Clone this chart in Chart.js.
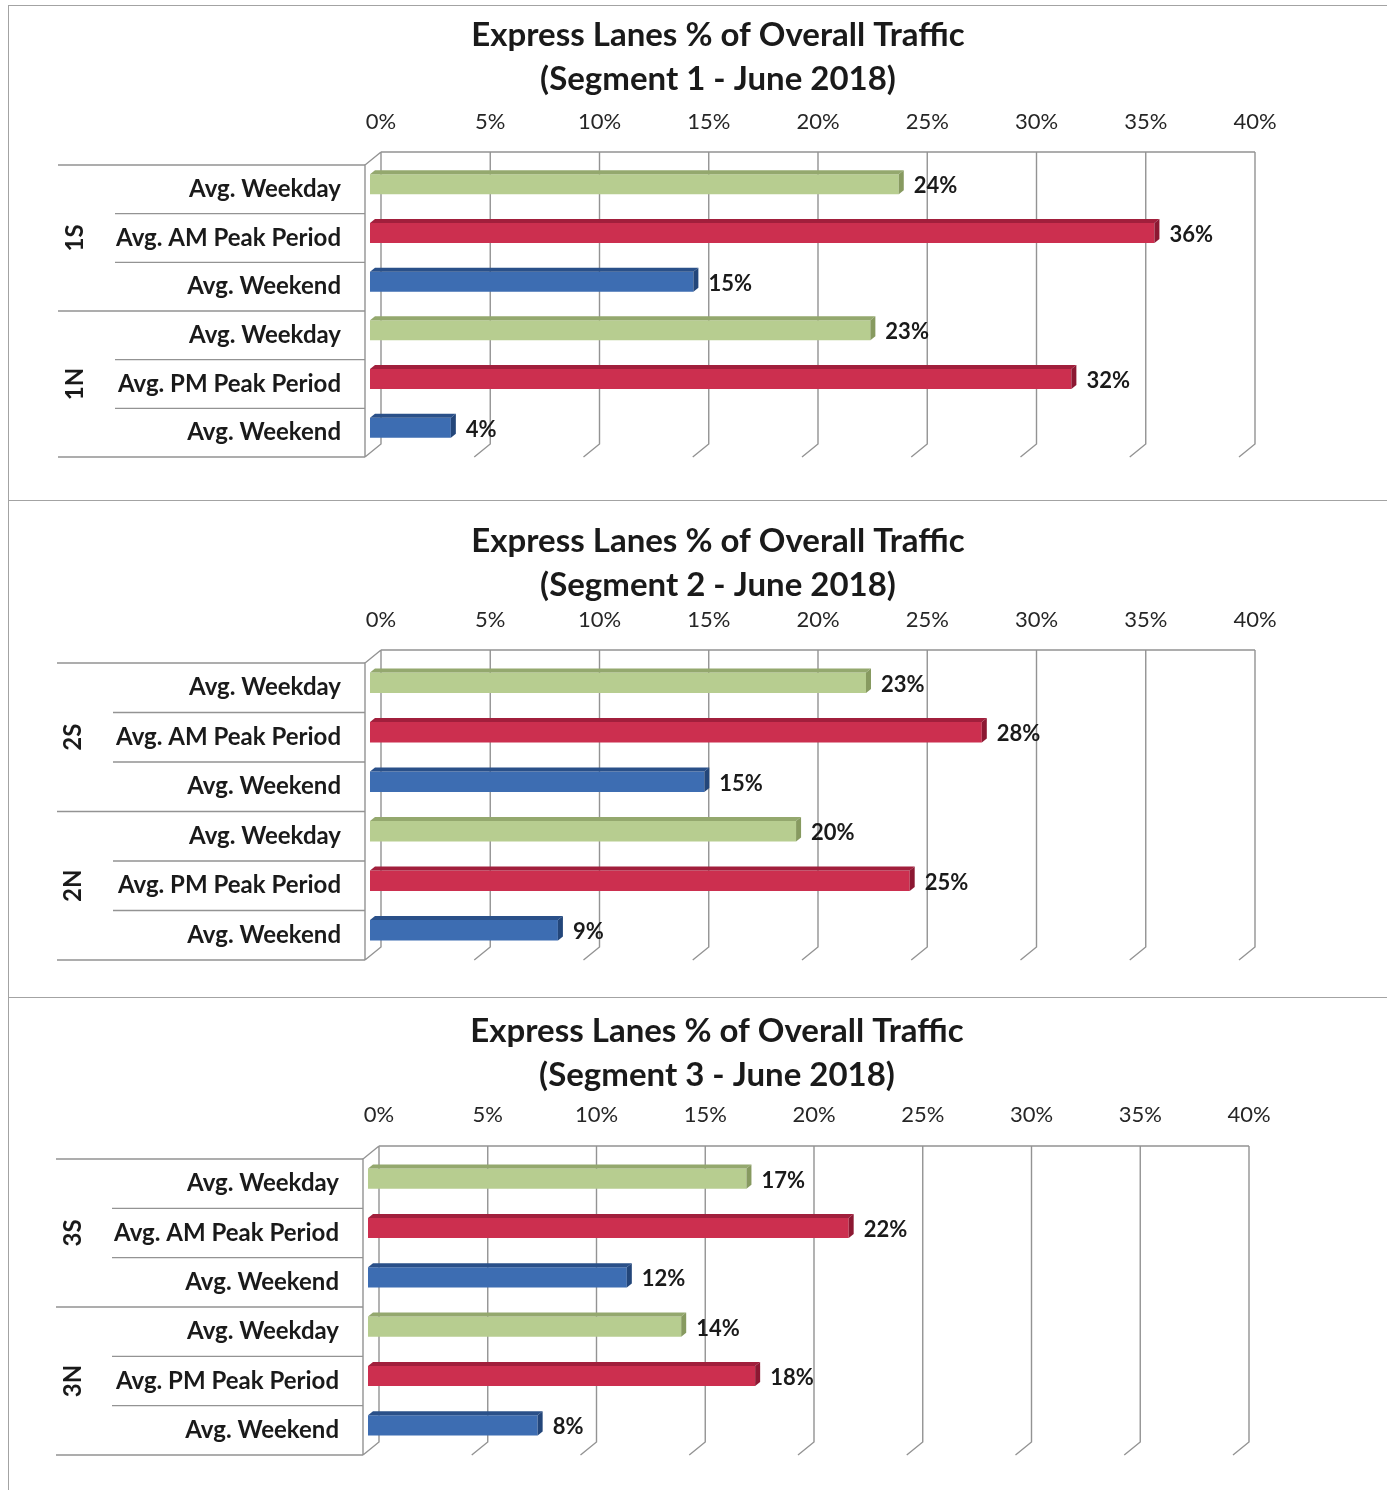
<!DOCTYPE html>
<html>
<head>
<meta charset="utf-8">
<title>Express Lanes % of Overall Traffic</title>
<script src="https://cdn.jsdelivr.net/npm/chart.js@4.4.1/dist/chart.umd.min.js"></script>
<style>
  html, body { margin: 0; padding: 0; background: #fff; }
  body { width: 1387px; height: 1490px; position: relative; overflow: hidden; }
  .box { position: absolute; left: 8px; right: -10px; border-top: 1.5px solid #a3a3a3; border-left: 1.5px solid #a3a3a3; }
  canvas { position: absolute; left: 0; }
</style>
</head>
<body>
<div class="box" style="top:5px;height:495px"></div>
<div class="box" style="top:500px;height:497px"></div>
<div class="box" style="top:997px;height:500px"></div>
<canvas id="seg1" width="1387" height="495" style="top:5px"></canvas>
<canvas id="seg2" width="1387" height="497" style="top:500px"></canvas>
<canvas id="seg3" width="1387" height="493" style="top:997px"></canvas>
<script>
// Data
const categories = ['Avg. Weekday', 'Avg. AM Peak Period', 'Avg. Weekend', 'Avg. Weekday', 'Avg. PM Peak Period', 'Avg. Weekend'];
const seg1Groups = ['1S', '1N'];
const seg2Groups = ['2S', '2N'];
const seg3Groups = ['3S', '3N'];
const seg1Values = [24.2, 35.9, 14.8, 22.9, 32.1, 3.7];
const seg2Values = [22.7, 28.0, 15.3, 19.5, 24.7, 8.6];
const seg3Values = [17.4, 22.1, 11.9, 14.4, 17.8, 7.8];
const titleLine1 = 'Express Lanes % of Overall Traffic';
const seg1Title = '(Segment 1 - June 2018)';
const seg2Title = '(Segment 2 - June 2018)';
const seg3Title = '(Segment 3 - June 2018)';
const xMin = 0, xMax = 40, xStep = 5;

// colours: weekday / peak / weekend
const barColors = ['#b7cd90', '#cc2f4f', '#3d6db2'];
const topColors = ['#94a86e', '#a11f3c', '#2a5089'];
const sideColors = ['#879a60', '#8c1832', '#23467a'];

const FONT = 'Lato, "Open Sans", sans-serif';
const TEXT = '#1a1a1a';
const LINE = '#939393';

// fake 3D: walls behind the bars and floor/labels in front
const wall3d = {
    id: 'wall3d',
    beforeDatasetsDraw(chart) {
        const { ctx, chartArea: a, scales: { x, y } } = chart;
        const cfg = chart.options.plugins.wall3d;
        const bTop = a.top - 8, bBot = a.bottom - 8;
        const x0 = x.getPixelForValue(xMin);
        const fx = x0 - 5;

        ctx.save();
        ctx.strokeStyle = LINE;
        ctx.lineWidth = 1.4;
        ctx.beginPath();
        ctx.moveTo(x0 + 11, bTop);
        ctx.lineTo(x.getPixelForValue(xMax) + 11, bTop);
        x.ticks.forEach(t => {
            const px = x.getPixelForValue(t.value) + 11;
            ctx.moveTo(px, bTop);
            ctx.lineTo(px, bBot);
            ctx.lineTo(px - 16, bBot + 13);
        });
        // left wall front edge
        ctx.moveTo(x0 + 11, bTop);
        ctx.lineTo(fx, a.top + 5);
        ctx.lineTo(fx, a.bottom + 5);
        ctx.stroke();

        // row separators for the category labels
        const step = (a.bottom - a.top) / categories.length;
        ctx.beginPath();
        for (let i = 0; i <= categories.length; i++) {
            const ly = a.top + 5 + i * step;
            ctx.moveTo(i % 3 === 0 ? cfg.outerX : cfg.innerX, ly);
            ctx.lineTo(fx, ly);
        }
        ctx.stroke();

        // category labels
        ctx.fillStyle = TEXT;
        ctx.font = 'bold 24px ' + FONT;
        ctx.textAlign = 'right';
        ctx.textBaseline = 'middle';
        categories.forEach((c, i) => {
            ctx.fillText(c, fx - 24, y.getPixelForValue(i) + 5);
        });

        // group labels, rotated
        cfg.groups.forEach((g, gi) => {
            const gy = y.getPixelForValue(gi * 3 + 1) + 5;
            ctx.save();
            ctx.translate(cfg.groupX, gy);
            ctx.rotate(-Math.PI / 2);
            ctx.textAlign = 'center';
            ctx.fillText(g, 0, 0);
            ctx.restore();
        });
        ctx.restore();
    },
    afterDatasetsDraw(chart) {
        const { ctx } = chart;
        const meta = chart.getDatasetMeta(0);
        const data = chart.data.datasets[0].data;
        ctx.save();
        meta.data.forEach((bar, i) => {
            const { x: ex, y: cy, base, height } = bar.getProps(['x', 'y', 'base', 'height'], true);
            const t = cy - height / 2, b = cy + height / 2, dx = 5, dy = 4;
            ctx.fillStyle = topColors[i % 3];
            ctx.beginPath();
            ctx.moveTo(base, t);
            ctx.lineTo(base + dx, t - dy);
            ctx.lineTo(ex + dx, t - dy);
            ctx.lineTo(ex, t);
            ctx.closePath();
            ctx.fill();
            ctx.fillStyle = sideColors[i % 3];
            ctx.beginPath();
            ctx.moveTo(ex, t);
            ctx.lineTo(ex + dx, t - dy);
            ctx.lineTo(ex + dx, b - dy);
            ctx.lineTo(ex, b);
            ctx.closePath();
            ctx.fill();

            ctx.fillStyle = TEXT;
            ctx.font = 'bold 22px ' + FONT;
            ctx.textAlign = 'left';
            ctx.textBaseline = 'middle';
            ctx.fillText(Math.round(data[i]) + '%', ex + dx + 10, cy + 2);
        });
        ctx.restore();
    }
};

function makeChart(id, values, subtitle, groups, layout) {
    const canvas = document.getElementById(id);
    const titleSize = 33, titleLH = 44;
    const titleTop = layout.title1 - titleLH / 2;
    // outer padding chosen so the title centres on titleX, y-axis box fills the rest
    const padRight = canvas.width - layout.right;
    const padLeft = 2 * layout.titleX - layout.right;
    return new Chart(canvas, {
        type: 'bar',
        data: {
            labels: categories,
            datasets: [{
                data: values,
                backgroundColor: categories.map((c, i) => barColors[i % 3]),
                borderWidth: 0,
                categoryPercentage: 1,
                barPercentage: 0.41
            }]
        },
        plugins: [wall3d],
        options: {
            indexAxis: 'y',
            responsive: false,
            animation: false,
            devicePixelRatio: 1,
            layout: {
                padding: { top: 0, left: padLeft, right: padRight, bottom: canvas.height - layout.bottom }
            },
            plugins: {
                legend: { display: false },
                tooltip: { enabled: false },
                title: {
                    display: true,
                    text: [titleLine1, subtitle],
                    color: TEXT,
                    font: { family: FONT, size: titleSize, weight: 'bold', lineHeight: titleLH / titleSize },
                    padding: { top: titleTop, bottom: 0 }
                },
                wall3d: { groups: groups, groupX: layout.groupX, outerX: layout.outerX, innerX: layout.innerX }
            },
            scales: {
                x: {
                    position: 'top',
                    min: xMin,
                    max: xMax,
                    border: { display: false },
                    grid: { display: false, drawTicks: false },
                    ticks: {
                        stepSize: xStep,
                        padding: layout.tickPad,
                        labelOffset: 11,
                        color: '#262626',
                        font: { family: FONT, size: 22 },
                        callback: v => v + '%'
                    },
                    afterFit: scale => { scale.height = layout.top - titleTop - 2 * titleLH; }
                },
                y: {
                    display: true,
                    border: { display: false },
                    grid: { display: false, drawTicks: false },
                    ticks: { display: false },
                    afterFit: scale => { scale.width = layout.left - padLeft; }
                }
            }
        }
    });
}

makeChart('seg1', seg1Values, seg1Title, seg1Groups,
    { title1: 30, titleX: 718, top: 155, bottom: 447, left: 370, right: 1244, tickPad: 25, groupX: 75, outerX: 58, innerX: 115 });
makeChart('seg2', seg2Values, seg2Title, seg2Groups,
    { title1: 41, titleX: 718, top: 158, bottom: 455, left: 370, right: 1244, tickPad: 25, groupX: 73, outerX: 57, innerX: 113 });
makeChart('seg3', seg3Values, seg3Title, seg3Groups,
    { title1: 34, titleX: 717, top: 157, bottom: 453, left: 368, right: 1238, tickPad: 26, groupX: 73, outerX: 56, innerX: 112 });
</script>
</body>
</html>
